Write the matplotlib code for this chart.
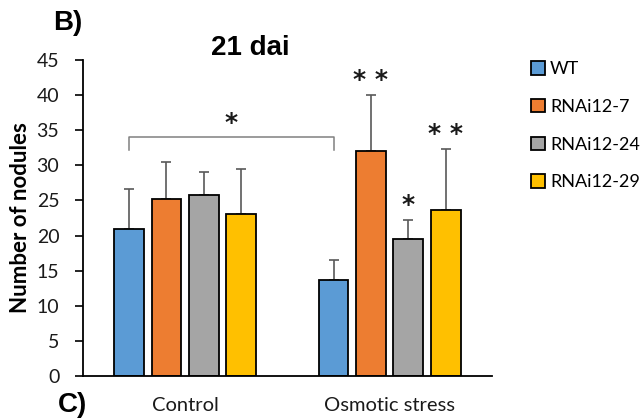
import numpy as np
import matplotlib
matplotlib.use("Agg")
import matplotlib.pyplot as plt
from matplotlib.patches import Patch

plt.rcParams['font.family'] = ['Lato', 'DejaVu Sans']

conditions = ["Control", "Osmotic stress"]
lines = ["WT", "RNAi12-7", "RNAi12-24", "RNAi12-29"]
colors = ["#5B9BD5", "#ED7D31", "#A5A5A5", "#FFC000"]

means = {
    "WT":        [21.0, 13.7],
    "RNAi12-7":  [25.2, 32.1],
    "RNAi12-24": [25.7, 19.5],
    "RNAi12-29": [23.1, 23.6],
}
errors = {
    "WT":        [5.6, 2.8],
    "RNAi12-7":  [5.3, 7.9],
    "RNAi12-24": [3.4, 2.7],
    "RNAi12-29": [6.4, 8.7],
}
# significance marks vs. WT within each condition
stars = {
    "WT":        ["", ""],
    "RNAi12-7":  ["", "**"],
    "RNAi12-24": ["", "*"],
    "RNAi12-29": ["", "**"],
}

fig = plt.figure(figsize=(6.43, 4.19), dpi=100)
ax = fig.add_axes([0.129, 0.1026, 0.636, 0.7544])

x = np.arange(len(conditions))
width = 0.146
step = 0.183
offsets = (np.arange(len(lines)) - 1.5) * step

for i, (name, col) in enumerate(zip(lines, colors)):
    xs = x + offsets[i]
    ax.bar(xs, means[name], width=width, color=col, edgecolor="black",
           linewidth=1.3, zorder=2, label=name)
    ax.errorbar(xs, means[name], yerr=[np.zeros(2), errors[name]], fmt="none",
                ecolor="#595959", elinewidth=1.2, capsize=3.5, capthick=1.2, zorder=1)
    for j in range(len(conditions)):
        if stars[name][j]:
            ax.text(xs[j], means[name][j] + errors[name][j] + 0.5, " ".join(stars[name][j]),
                    ha="center", va="bottom", fontsize=18, color="#1a1a1a",
                    family="DejaVu Sans", fontweight="bold")

# bracket comparing WT between conditions
xl = x[0] + offsets[0]
xr = x[1] + offsets[0]
ax.plot([xl, xl, xr, xr], [32.2, 34.0, 34.0, 32.2], color="#808080", lw=1.1, zorder=1)
ax.text((xl + xr) / 2, 34.3, "*", ha="center", va="bottom", fontsize=18, color="#1a1a1a",
        family="DejaVu Sans", fontweight="bold")

ax.set_xlim(-0.5, 1.5)
ax.set_ylim(0, 45)
ax.set_yticks(np.arange(0, 46, 5))
ax.set_xticks([])
ax.tick_params(axis="y", labelsize=14, length=6, width=1.2, direction="out", pad=11,
               labelcolor="#1a1a1a")
for s in ["top", "right"]:
    ax.spines[s].set_visible(False)
ax.spines["left"].set_linewidth(1.3)
ax.spines["bottom"].set_linewidth(1.3)

ax.set_ylabel("Number of nodules", fontsize=16, fontweight="bold", labelpad=4)

for xi, c in zip(x, conditions):
    fig.text(ax.transData.transform((xi, 0))[0] / fig.bbox.width, 1 - 405 / 419, c,
             ha="center", va="center", fontsize=14.5, color="#1a1a1a")

fig.text(250 / 643, 1 - 48 / 419, "21 dai", ha="center", va="center", fontsize=20,
         fontweight="bold", family="Liberation Sans")
fig.text(53 / 643, 1 - 23 / 419, "B)", ha="left", va="center", fontsize=20,
         fontweight="bold", family="Liberation Sans")
fig.text(58 / 643, 0.003, "C)", ha="left", va="bottom", fontsize=20,
         fontweight="bold", family="Liberation Sans")

handles = [Patch(facecolor=c, edgecolor="black", linewidth=1.3) for c in colors]
fig.legend(handles, lines, loc="upper left", bbox_to_anchor=(0.812, 0.875), frameon=False,
           fontsize=13, handlelength=0.75, handleheight=0.75, handletextpad=0.3,
           labelspacing=1.2, borderpad=0)

fig.savefig("out.png", dpi=100)
